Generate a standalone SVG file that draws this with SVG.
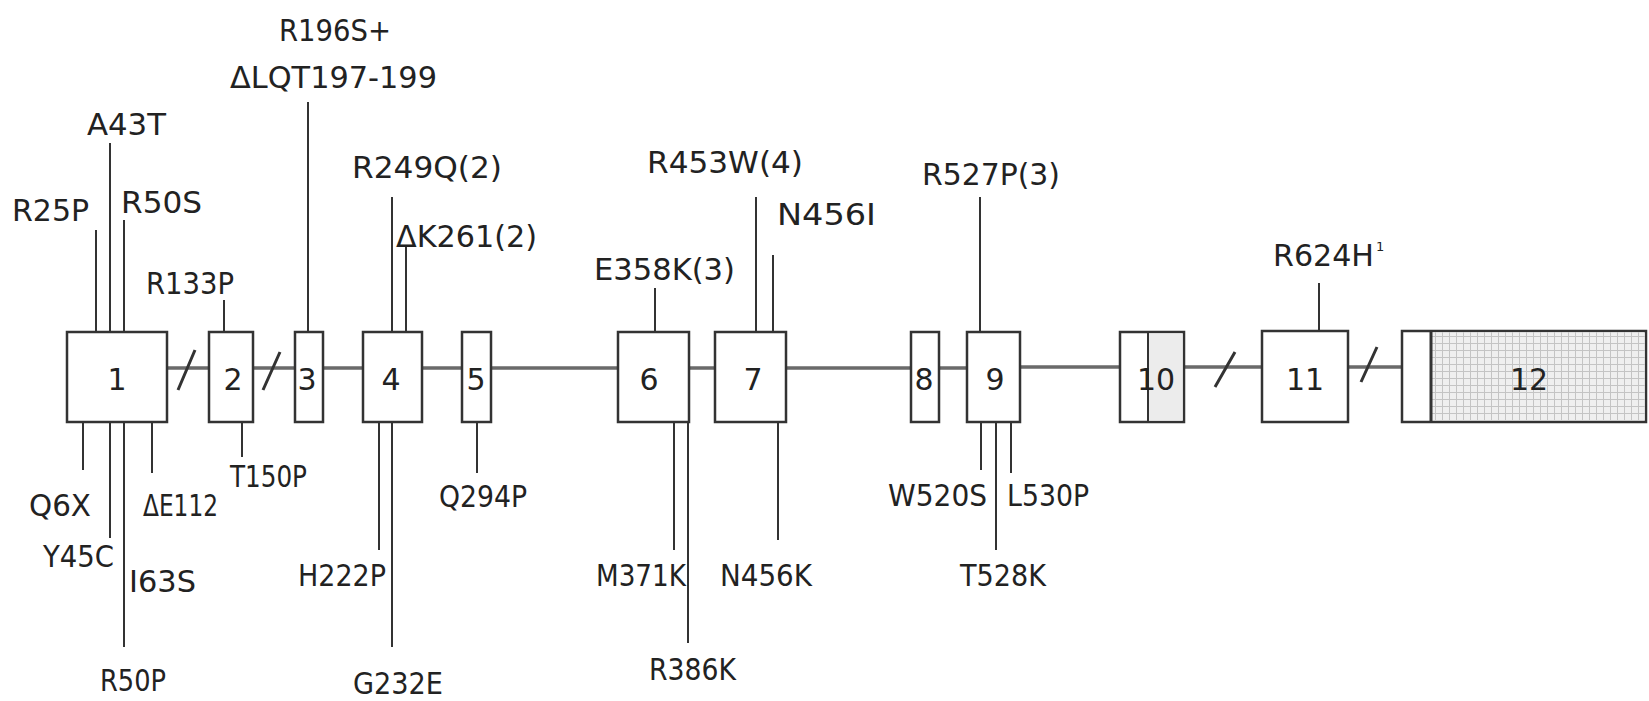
<svg xmlns="http://www.w3.org/2000/svg" width="1649" height="701" viewBox="0 0 1649 701">
<style>
.bx{fill:#fff;stroke:#333;stroke-width:2.5}
.num{font-family:"DejaVu Sans",sans-serif;font-size:30px;fill:#222;text-anchor:middle}
.lb{font-family:"DejaVu Sans",sans-serif;font-size:30px;fill:#222}
.bb{stroke:#6a6a6a;stroke-width:3.5;fill:none}
.tk{stroke:#333;stroke-width:2;fill:none}
.sl{stroke:#333;stroke-width:3;fill:none}
</style>
<defs>
<pattern id="grid" width="7" height="7" patternUnits="userSpaceOnUse">
<rect width="7" height="7" fill="#efefef"/>
<path d="M0 0.5H7M0.5 0V7" stroke="#c4c4c4" stroke-width="1"/>
</pattern>
</defs>
<rect width="1649" height="701" fill="#fff"/>
<g id="connectors">
<path class="bb" d="M167 368H209M253 368H295M323 368H363M422 368H462M491 368H618M689 368H715M786 368H911M939 368H967M1020 367H1120M1184 367H1262M1348 367H1402"/>
<path class="sl" d="M178 390L195 350M263 390L280 352M1215 387L1235 352M1361 382L1377 347"/>
<path class="tk" d="M96 230V332M110 143V332M124 220V332M224 300V332M308 102V332M392 197V332M406 247V332M655 288V332M756 197V332M773 255V332M980 197V332M1319 283V332"/>
<path class="tk" d="M83 422V470M110 422V538M124 422V647M152 422V473M242 422V457M379 422V550M392 422V647M477 422V473M674 422V550M688 422V643M778 422V540M981 422V470M996 422V550M1011 422V473"/>
</g>
<g id="exon1"><rect class="bx" x="67" y="332" width="100" height="90"/><text class="num" x="117" y="390">1</text></g>
<g id="exon2"><rect class="bx" x="209" y="332" width="44" height="90"/><text class="num" x="233" y="390">2</text></g>
<g id="exon3"><rect class="bx" x="295" y="332" width="28" height="90"/><text class="num" x="307" y="390">3</text></g>
<g id="exon4"><rect class="bx" x="363" y="332" width="59" height="90"/><text class="num" x="391" y="390">4</text></g>
<g id="exon5"><rect class="bx" x="462" y="332" width="29" height="90"/><text class="num" x="476" y="390">5</text></g>
<g id="exon6"><rect class="bx" x="618" y="332" width="71" height="90"/><text class="num" x="649" y="390">6</text></g>
<g id="exon7"><rect class="bx" x="715" y="332" width="71" height="90"/><text class="num" x="753" y="390">7</text></g>
<g id="exon8"><rect class="bx" x="911" y="332" width="28" height="90"/><text class="num" x="924" y="390">8</text></g>
<g id="exon9"><rect class="bx" x="967" y="332" width="53" height="90"/><text class="num" x="995" y="390">9</text></g>
<g id="exon10"><rect class="bx" x="1120" y="332" width="64" height="90"/><rect x="1148" y="333.5" width="34.5" height="87" fill="#ececec"/><path d="M1148 332V422" stroke="#333" stroke-width="2"/><text class="num" x="1156" y="390">10</text></g>
<g id="exon11"><rect class="bx" x="1262" y="331" width="86" height="91"/><text class="num" x="1305" y="390">11</text></g>
<g id="exon12"><rect class="bx" x="1402" y="331" width="244" height="91"/><rect x="1431" y="332.5" width="213.5" height="88" fill="url(#grid)"/><path d="M1431 331V422" stroke="#333" stroke-width="3"/><text class="num" x="1529" y="390">12</text></g>
<g id="mutations">
<g id="m-R25P"><text class="lb" x="12" y="221" textLength="77" lengthAdjust="spacingAndGlyphs">R25P</text></g>
<g id="m-A43T"><text class="lb" x="87" y="135" textLength="79" lengthAdjust="spacingAndGlyphs">A43T</text></g>
<g id="m-R50S"><text class="lb" x="121" y="213" textLength="81" lengthAdjust="spacingAndGlyphs">R50S</text></g>
<g id="m-R133P"><text class="lb" x="146" y="294" textLength="88" lengthAdjust="spacingAndGlyphs">R133P</text></g>
<g id="m-R196S"><text class="lb" x="279" y="41" textLength="112" lengthAdjust="spacingAndGlyphs">R196S+</text></g>
<g id="m-dLQT"><text class="lb" x="230" y="88" textLength="207" lengthAdjust="spacingAndGlyphs">ΔLQT197-199</text></g>
<g id="m-R249Q"><text class="lb" x="352" y="178" textLength="150" lengthAdjust="spacingAndGlyphs">R249Q(2)</text></g>
<g id="m-dK261"><text class="lb" x="396" y="247" textLength="141" lengthAdjust="spacingAndGlyphs">ΔK261(2)</text></g>
<g id="m-Q6X"><text class="lb" x="29" y="516" textLength="62" lengthAdjust="spacingAndGlyphs">Q6X</text></g>
<g id="m-Y45C"><text class="lb" x="43" y="567" textLength="71" lengthAdjust="spacingAndGlyphs">Y45C</text></g>
<g id="m-I63S"><text class="lb" x="129" y="592" textLength="67" lengthAdjust="spacingAndGlyphs">I63S</text></g>
<g id="m-R50P"><text class="lb" x="100" y="691" textLength="66" lengthAdjust="spacingAndGlyphs">R50P</text></g>
<g id="m-dE112"><text class="lb" x="143" y="516" textLength="75" lengthAdjust="spacingAndGlyphs">ΔE112</text></g>
<g id="m-T150P"><text class="lb" x="230" y="487" textLength="77" lengthAdjust="spacingAndGlyphs">T150P</text></g>
<g id="m-H222P"><text class="lb" x="298" y="586" textLength="88" lengthAdjust="spacingAndGlyphs">H222P</text></g>
<g id="m-G232E"><text class="lb" x="353" y="694" textLength="90" lengthAdjust="spacingAndGlyphs">G232E</text></g>
<g id="m-Q294P"><text class="lb" x="439" y="507" textLength="88" lengthAdjust="spacingAndGlyphs">Q294P</text></g>
<g id="m-E358K"><text class="lb" x="594" y="280" textLength="141" lengthAdjust="spacingAndGlyphs">E358K(3)</text></g>
<g id="m-R453W"><text class="lb" x="647" y="173" textLength="156" lengthAdjust="spacingAndGlyphs">R453W(4)</text></g>
<g id="m-N456I"><text class="lb" x="777" y="225" textLength="99" lengthAdjust="spacingAndGlyphs">N456I</text></g>
<g id="m-R527P"><text class="lb" x="922" y="185" textLength="138" lengthAdjust="spacingAndGlyphs">R527P(3)</text></g>
<g id="m-M371K"><text class="lb" x="596" y="586" textLength="90" lengthAdjust="spacingAndGlyphs">M371K</text></g>
<g id="m-R386K"><text class="lb" x="649" y="680" textLength="87" lengthAdjust="spacingAndGlyphs">R386K</text></g>
<g id="m-N456K"><text class="lb" x="720" y="586" textLength="92" lengthAdjust="spacingAndGlyphs">N456K</text></g>
<g id="m-W520S"><text class="lb" x="888" y="506" textLength="99" lengthAdjust="spacingAndGlyphs">W520S</text></g>
<g id="m-L530P"><text class="lb" x="1007" y="506" textLength="82" lengthAdjust="spacingAndGlyphs">L530P</text></g>
<g id="m-T528K"><text class="lb" x="960" y="586" textLength="86" lengthAdjust="spacingAndGlyphs">T528K</text></g>
<g id="m-R624H"><text class="lb" x="1273" y="266"><tspan textLength="101" lengthAdjust="spacingAndGlyphs">R624H</tspan><tspan font-size="13" dx="2" dy="-15">1</tspan></text></g>
</g>
</svg>
